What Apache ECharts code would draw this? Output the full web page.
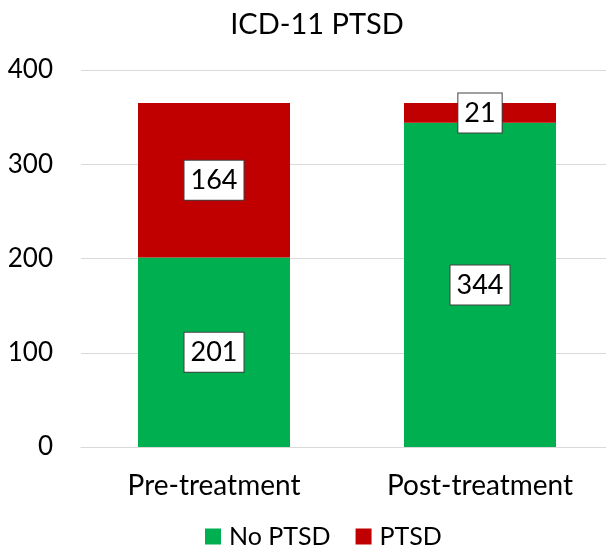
<!DOCTYPE html>
<html>
<head>
<meta charset="utf-8">
<script src="https://cdn.jsdelivr.net/npm/echarts@6/dist/echarts.min.js"></script>
<style>html,body{margin:0;padding:0;background:#fff}#c{width:606px;height:551px}</style>
</head>
<body>
<div id="c"></div>
<script>
const categories = ['Pre-treatment', 'Post-treatment'];
const noPtsd = [201, 344];
const ptsd = [164, 21];
const seriesNames = ['No PTSD', 'PTSD'];
const yTicks = [0, 100, 200, 300, 400];

const FONT = 'Lato';
const chart = echarts.init(document.getElementById('c'), null, {renderer: 'canvas'});
const labelStyle = {
  show: true,
  position: 'inside',
  color: '#000',
  fontFamily: FONT,
  fontSize: 27,
  backgroundColor: '#fff',
  borderColor: '#404040',
  borderWidth: 1,
  padding: [7, 6, 5, 6]
};
chart.setOption({
  animation: false,
  title: {
    text: 'ICD-11 PTSD',
    left: 312,
    top: 5,
    textAlign: 'center',
    textStyle: {fontFamily: FONT, fontSize: 29, fontWeight: 'normal', color: '#000'}
  },
  legend: {
    data: seriesNames,
    top: 519,
    left: 200,
    itemWidth: 16,
    itemHeight: 16,
    itemGap: 25,
    icon: 'rect',
    textStyle: {fontFamily: FONT, fontSize: 25, color: '#000', padding: [0, 0, 0, 3]}
  },
  grid: {left: 81, width: 532, top: 70, height: 377, containLabel: false, outerBoundsMode: 'none'},
  xAxis: {
    type: 'category',
    data: categories,
    axisLine: {show: true, lineStyle: {color: '#d9d9d9', width: 1}},
    axisTick: {show: false},
    axisLabel: {fontFamily: FONT, fontSize: 28, color: '#000', margin: 25}
  },
  yAxis: {
    type: 'value',
    min: yTicks[0],
    max: yTicks[yTicks.length - 1],
    interval: 100,
    axisLine: {show: false},
    axisTick: {show: false},
    splitLine: {lineStyle: {color: '#d9d9d9', width: 1}},
    axisLabel: {fontFamily: FONT, fontSize: 26, color: '#000', margin: 28}
  },
  series: [
    {name: seriesNames[0], type: 'bar', stack: 's', data: noPtsd, barWidth: 152,
     itemStyle: {color: '#00B050'}, label: labelStyle},
    {name: seriesNames[1], type: 'bar', stack: 's', data: ptsd, barWidth: 152,
     itemStyle: {color: '#C00000'}, label: labelStyle}
  ]
});
</script>
</body>
</html>
